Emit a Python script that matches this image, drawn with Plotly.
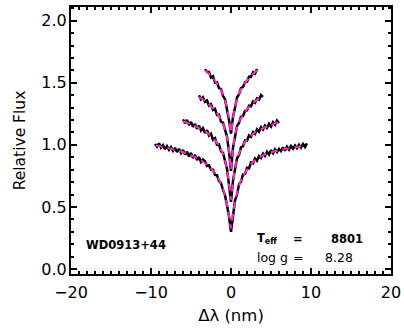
import numpy as np
import plotly.graph_objects as go

# ---------------- data ----------------
# observed spectra (sampled every 0.25 nm), values read from the picture
obs1_x = np.arange(-9.5, 9.5001, 0.25)
obs1_y = [1.008, 0.985, 1.012, 0.978, 0.998, 0.965, 0.99, 0.96, 0.982, 0.952,
          0.976, 0.942, 0.968, 0.935, 0.958, 0.922, 0.945, 0.905, 0.935, 0.893,
          0.918, 0.878, 0.902, 0.862, 0.882, 0.868, 0.83, 0.835, 0.8, 0.8,
          0.758, 0.756, 0.708, 0.693, 0.636, 0.595, 0.512, 0.425,
          0.30,
          0.44, 0.552, 0.598, 0.682, 0.702, 0.762, 0.766, 0.815, 0.81, 0.858,
          0.85, 0.89, 0.872, 0.91, 0.895, 0.93, 0.91, 0.944, 0.922, 0.956,
          0.932, 0.963, 0.942, 0.968, 0.95, 0.98, 0.953, 0.985, 0.962, 0.99,
          0.968, 0.995, 0.973, 1.0, 0.978, 1.008, 0.983, 1.012]

obs2_x = np.arange(-6.0, 6.0001, 0.25)
obs2_y = [1.205, 1.174, 1.2, 1.16, 1.185, 1.145, 1.167, 1.13, 1.155, 1.115,
          1.135, 1.095, 1.117, 1.075, 1.09, 1.04, 1.053, 1.0, 1.003, 0.948,
          0.934, 0.864, 0.808, 0.678,
          0.54,
          0.712, 0.798, 0.892, 0.918, 0.98, 0.988, 1.037, 1.034, 1.075, 1.064,
          1.103, 1.088, 1.125, 1.106, 1.143, 1.124, 1.155, 1.136, 1.17, 1.148,
          1.183, 1.161, 1.195, 1.176]

obs3_x = np.arange(-4.0, 4.0001, 0.25)
obs3_y = [1.4, 1.366, 1.383, 1.346, 1.357, 1.316, 1.327, 1.281, 1.29, 1.241,
          1.243, 1.186, 1.178, 1.117, 1.067, 0.948,
          0.79,
          0.977, 1.073, 1.152, 1.177, 1.226, 1.232, 1.274, 1.277, 1.315, 1.311,
          1.35, 1.338, 1.375, 1.364, 1.4, 1.386]

obs4_x = np.arange(-3.25, 3.2501, 0.25)
obs4_y = [1.61, 1.586, 1.587, 1.541, 1.552, 1.501, 1.504, 1.456, 1.448, 1.395,
          1.368, 1.287, 1.2,
          1.09,
          1.227, 1.298, 1.381, 1.407, 1.459, 1.465, 1.504, 1.509, 1.549, 1.547,
          1.585, 1.572, 1.61]

# model fits
mod1_x = [-9.4, -9, -8, -7, -6, -5, -4, -3, -2.5, -2, -1.5, -1, -0.75, -0.5, -0.25, 0,
          0.25, 0.5, 0.75, 1, 1.5, 2, 2.5, 3, 4, 5, 6, 7, 8, 9, 9.4]
mod1_y = [0.995, 0.99, 0.975, 0.96, 0.94, 0.915, 0.885, 0.84, 0.81, 0.77, 0.72, 0.645,
          0.59, 0.52, 0.43, 0.33,
          0.45, 0.54, 0.61, 0.67, 0.75, 0.80, 0.845, 0.875, 0.915, 0.94, 0.955, 0.97,
          0.98, 0.99, 0.995]

mod2_x = [-6, -5, -4, -3, -2, -1.5, -1, -0.75, -0.5, -0.25, 0,
          0.25, 0.5, 0.75, 1, 1.5, 2, 3, 4, 5, 6]
mod2_y = [1.19, 1.165, 1.135, 1.10, 1.035, 0.99, 0.925, 0.875, 0.80, 0.69, 0.56,
          0.70, 0.81, 0.88, 0.93, 1.00, 1.045, 1.10, 1.135, 1.16, 1.185]

mod3_x = [-4, -3.5, -3, -2.5, -2, -1.5, -1, -0.75, -0.5, -0.25, 0,
          0.25, 0.5, 0.75, 1, 1.5, 2, 2.5, 3, 3.5, 4]
mod3_y = [1.385, 1.365, 1.34, 1.31, 1.275, 1.23, 1.17, 1.125, 1.06, 0.96, 0.80,
          0.97, 1.08, 1.14, 1.185, 1.24, 1.285, 1.32, 1.35, 1.375, 1.395]

mod4_x = [-3.25, -3, -2.5, -2, -1.5, -1, -0.75, -0.5, -0.25, 0,
          0.25, 0.5, 0.75, 1, 1.5, 2, 2.5, 3, 3.25]
mod4_y = [1.60, 1.585, 1.555, 1.515, 1.47, 1.405, 1.36, 1.30, 1.21, 1.10,
          1.22, 1.31, 1.37, 1.415, 1.475, 1.52, 1.555, 1.585, 1.60]

star_name = "WD0913+44"
teff = "8801"
logg = "8.28"

# ---------------- figure ----------------
FONT = "DejaVu Sans, Verdana, sans-serif"
MAGENTA = "rgb(255,40,200)"

fig = go.Figure()
for ox, oy in [(obs1_x, obs1_y), (obs2_x, obs2_y), (obs3_x, obs3_y), (obs4_x, obs4_y)]:
    fig.add_trace(go.Scatter(x=ox, y=oy, mode="lines",
                             line=dict(color="black", width=2.5),
                             showlegend=False, hoverinfo="skip"))
for mx, my in [(mod1_x, mod1_y), (mod2_x, mod2_y), (mod3_x, mod3_y), (mod4_x, mod4_y)]:
    fig.add_trace(go.Scatter(x=mx, y=my, mode="lines",
                             line=dict(color=MAGENTA, width=2, dash="7px,5px",
                                       shape="spline", smoothing=0.6),
                             showlegend=False, hoverinfo="skip"))

axis_common = dict(
    showgrid=False, zeroline=False, showline=True, linecolor="black",
    linewidth=2, mirror="allticks", ticks="inside", tickcolor="black",
    tickwidth=1.5, ticklen=6,
    tickfont=dict(family=FONT, size=16, color="black"),
)

fig.update_xaxes(
    range=[-20, 20], dtick=10, tick0=0,
    minor=dict(dtick=1, ticks="inside", ticklen=3, tickcolor="black", tickwidth=1.5),
    title=dict(text="Δλ (nm)", font=dict(family=FONT, size=16.5, color="black"),
               standoff=8),
    ticklabelstandoff=3,
    **axis_common,
)
fig.update_yaxes(
    range=[-0.04, 2.11], dtick=0.5, tick0=0, tickformat=".1f",
    minor=dict(dtick=0.1, ticks="inside", ticklen=3, tickcolor="black", tickwidth=1.5),
    title=dict(text="Relative Flux", font=dict(family=FONT, size=15.5, color="black"),
               standoff=12),
    ticklabelstandoff=-1,
    **axis_common,
)

ann_bold = dict(family=FONT, size=11.5, color="black")
ann_norm = dict(family=FONT, size=12.5, color="black")
anns = [
    dict(x=-13.15, y=0.19, text="<b>" + star_name + "</b>", xanchor="center", font=ann_bold),
    dict(x=3.0, y=0.245, text="<b>T<sub>eff</sub></b>", xanchor="left", font=ann_bold),
    dict(x=8.4, y=0.245, text="<b>=</b>", xanchor="center", font=ann_bold),
    dict(x=16.8, y=0.245, text="<b>" + teff + "</b>", xanchor="right", font=ann_bold),
    dict(x=3.0, y=0.095, text="log g", xanchor="left", font=ann_norm),
    dict(x=8.4, y=0.095, text="=", xanchor="center", font=ann_norm),
    dict(x=15.5, y=0.095, text=logg, xanchor="right", font=ann_norm),
]
for a in anns:
    fig.add_annotation(xref="x", yref="y", showarrow=False, yanchor="middle", **a)

fig.update_layout(
    width=404, height=328,
    margin=dict(l=71, r=13, t=7, b=54, autoexpand=False),
    paper_bgcolor="white", plot_bgcolor="white",
)

fig.write_html("out.html")
